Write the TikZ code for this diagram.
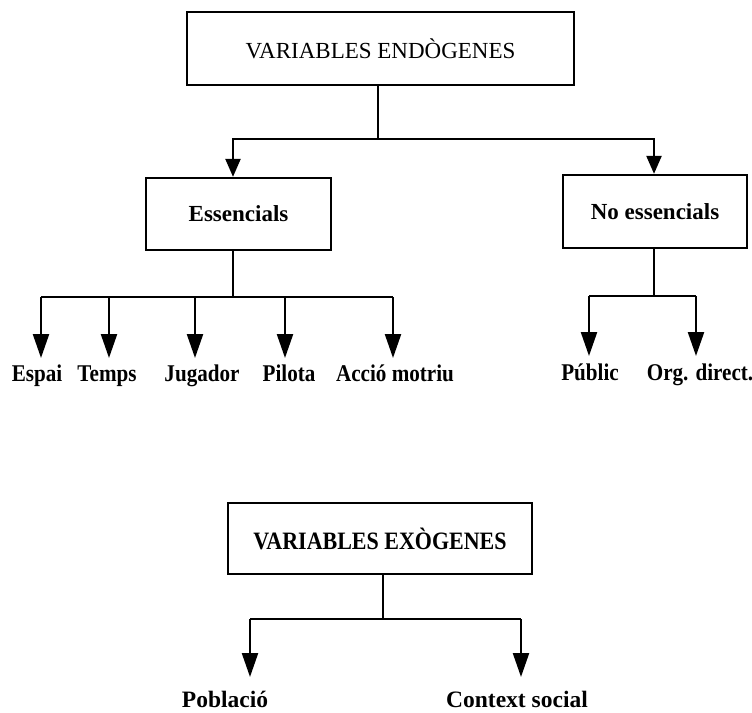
\documentclass[tikz,border=0pt]{standalone}
\usepackage{fontspec}
\setmainfont{Liberation Serif}
\newfontfamily\narrowserif[FakeStretch=0.88]{Liberation Serif}
\usetikzlibrary{arrows.meta}

\tikzset{
  box/.style={draw, line width=2.3pt, inner sep=0pt, anchor=center},
  wire/.style={line width=2.3pt},
  boxarrow/.style={wire, -{Triangle[length=18pt, width=15pt]}},
  leafarrow/.style={wire, -{Triangle[length=24pt, width=16pt]}},
  leaf/.style={font=\narrowserif\fontsize{24}{26}\selectfont\bfseries, inner sep=0pt, anchor=base},
  lowleaf/.style={font=\fontsize{23.5}{26}\selectfont\bfseries, inner sep=0pt, anchor=base},
  headtext/.style={font=\fontsize{23}{26}\selectfont},
  subtext/.style={font=\fontsize{23}{25}\selectfont\bfseries},
  exotext/.style={font=\narrowserif\fontsize{25}{27}\selectfont\bfseries},
}

\begin{document}
\begin{tikzpicture}[x=1pt, y=-1pt]
  \path[use as bounding box] (0,0) rectangle (752,712);

  % ---- endogenous variables ----
  \node[box, headtext, minimum width=387pt, minimum height=73pt] (endo) at (380.5,48.5) {VARIABLES ENDÒGENES};

  \node[box, subtext, minimum width=185pt, minimum height=72pt] (ess) at (238.5,214) {Essencials};
  \node[box, subtext, minimum width=184pt, minimum height=73pt] (noess) at (655,211.5) {No essencials};

  \coordinate (jendo) at (378,139);
  \draw[wire] (endo.south -| jendo) -- (jendo);
  \draw[boxarrow] (jendo) -| ([xshift=-5.5pt]ess.north);
  \draw[boxarrow] (jendo) -| ([xshift=-1pt]noess.north);

  % essential branch
  \coordinate (jess) at (233,297);
  \draw[wire] ([xshift=-5.5pt]ess.south) -- (jess);
  \coordinate (b1) at (41,297);
  \coordinate (b5) at (393,297);
  \draw[wire] (b1) -- (b5);

  \node[leaf] (espai)   at (37,381)  {Espai};
  \node[leaf] (temps)   at (107,381) {Temps};
  \node[leaf] (jugador) at (202,381) {Jugador};
  \node[leaf] (pilota)  at (289,381) {Pilota};
  \node[leaf] (accio)   at (395,381) {Acció motriu};

  \foreach \x/\n in {41/1,109/2,195/3,285/4,393/5}{
    \coordinate (top\n) at (\x,297);
    \coordinate (tip\n) at (\x,358);
    \draw[leafarrow] (top\n) -- (tip\n);
  }

  % non-essential branch
  \coordinate (jnoess) at (654,296);
  \draw[wire] ([xshift=-1pt]noess.south) -- (jnoess);
  \coordinate (n1) at (589,296);
  \coordinate (n2) at (696,296);
  \draw[wire] (n1) -- (n2);
  \coordinate (ntip1) at (589,356);
  \coordinate (ntip2) at (696,356);
  \draw[leafarrow] (n1) -- (ntip1);
  \draw[leafarrow] (n2) -- (ntip2);
  \node[leaf] (public) at (590,380) {Públic};
  \node[leaf] (org)    at (700,380) {Org. direct.};

  % ---- exogenous variables ----
  \node[box, exotext, minimum width=304pt, minimum height=71pt] (exo) at (380,538.5) {VARIABLES EXÒGENES};

  \coordinate (jexo) at (383,619);
  \draw[wire] (exo.south -| jexo) -- (jexo);
  \coordinate (e1) at (250,619);
  \coordinate (e2) at (521,619);
  \draw[wire] (e1) -- (e2);
  \coordinate (etip1) at (250,677);
  \coordinate (etip2) at (521,677);
  \draw[leafarrow] (e1) -- (etip1);
  \draw[leafarrow] (e2) -- (etip2);
  \node[lowleaf] (poblacio) at (225,707) {Població};
  \node[lowleaf] (context)  at (517,707) {Context social};
\end{tikzpicture}
\end{document}
